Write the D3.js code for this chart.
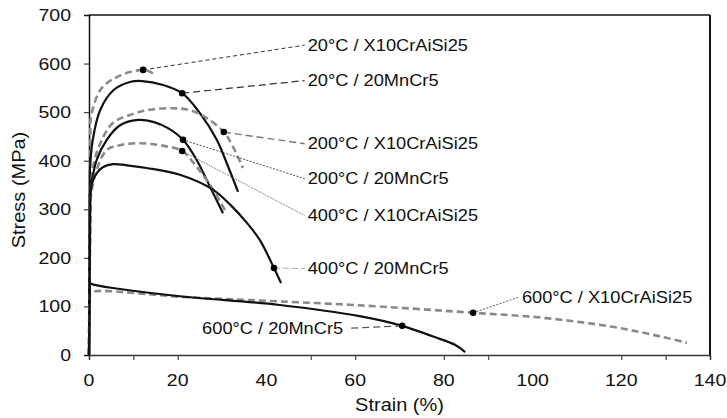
<!DOCTYPE html>
<html><head><meta charset="utf-8">
<script src="https://cdn.jsdelivr.net/npm/d3@7"></script>
<style>body{margin:0;background:#fff}svg{display:block}text{font-family:"Liberation Sans",Arial,sans-serif;fill:#111}</style>
</head><body><svg id="c" width="727" height="418"></svg>
<script>
// ---- data (strain %, stress MPa) ----
const xTicks = [0,20,40,60,80,100,120,140];
const xMinorTicks = [10,20,50,60,80,90,120,130];
const yTicks = [0,100,200,300,400,500,600,700];

const x10_20  = [[0,0],[0.3,480],[1,512],[2.5,545],[4.5,563],[6.3,572],[9,582],[12.2,587],[13.8,583],[14.9,576]];
const mn_20   = [[0,0],[0.2,380],[0.8,440],[2.5,504],[5.5,545],[9.2,562],[12,564],[16.7,556],[21,539],[25,498],[28.8,443],[31.4,387],[33.6,336]];
const x10_200 = [[0,0],[0.3,330],[1,390],[2.5,435],[5.4,478],[9.2,494],[13,504],[19,508],[22.8,504],[26.5,488],[30.4,459],[32.5,428],[34.7,385]];
const mn_200  = [[0,0],[0.2,330],[1.7,401],[4,443],[7,473],[11,484],[14.5,480],[17.8,467],[21.2,443],[24.3,401],[27.3,346],[30.2,292]];
const x10_400 = [[0,0],[0.3,320],[1.5,375],[4,422],[7,432],[11.5,436],[16,432],[21,420],[24.3,387],[28,340],[31,292]];
const mn_400  = [[0,0],[0.3,320],[0.7,354],[1.8,375],[3.2,387],[5.4,393],[9,390],[13,385],[20.5,371],[28,340],[32,308],[35.6,272],[38.5,237],[41.7,179],[43.3,148]];
const x10_600 = [[0,0],[0.2,125],[1,130],[2.5,132],[20.5,120],[36.7,113],[59.5,103],[86.6,87],[103,76],[118,58],[129.4,37],[134.8,25]];
const mn_600  = [[0,0],[0.2,148],[1,145],[5.4,138],[20.5,121],[43,103],[61,80],[70.6,60],[77.6,38],[82.5,21],[84.8,6]];

const labels = ["20°C / X10CrAiSi25","20°C / 20MnCr5","200°C / X10CrAiSi25","200°C / 20MnCr5",
                "400°C / X10CrAiSi25","400°C / 20MnCr5","600°C / X10CrAiSi25","600°C / 20MnCr5"];
const markStrain = [12.2,21,30.4,21.2,21,41.7,86.6,70.6];
const markStress = [587,539,459,443,420,179,87,60];

// ---- layout ----
const svg = d3.select("#c");
const L=89,R=710,T=15,B=355;
const x = d3.scaleLinear().domain([0,140]).range([L,R]);
const y = d3.scaleLinear().domain([0,700]).range([B,T]);

const series = [
  {d:x10_20, gray:true},{d:mn_20, gray:false},{d:x10_200, gray:true},{d:mn_200, gray:false},
  {d:x10_400, gray:true},{d:mn_400, gray:false},{d:x10_600, gray:true},{d:mn_600, gray:false}
];
// label anchor positions (data units) and leader styles
const labelPos = [[49.3,638],[49.3,565],[49.3,435],[49.3,363],[49.3,287],[49.3,178],[97.6,119],[25.5,55]];
const leaderStyle = [
  {c:"#333",w:1,da:"4,3"},{c:"#333",w:1.2,da:"7,4"},{c:"#777",w:1.4,da:"7,4"},{c:"#222",w:0.8,da:"2,1.5"},
  {c:"#666",w:0.8,da:"2,1"},{c:"#aaa",w:1,da:"6,3"},{c:"#333",w:0.8,da:"2,1.5"},{c:"#555",w:1.2,da:"7,4"}
];

// frame
svg.append("line").attr("x1",L).attr("x2",R).attr("y1",T).attr("y2",T).attr("stroke","#111").attr("stroke-width",1.5);
svg.append("line").attr("x1",R).attr("x2",R).attr("y1",T).attr("y2",B+0.75).attr("stroke","#111").attr("stroke-width",2);

// axes
const gx = svg.append("g").attr("transform",`translate(0,${B})`)
  .call(d3.axisBottom(x).tickValues(xMinorTicks).tickSize(5).tickFormat(""));
gx.select(".domain").attr("stroke","#333").attr("stroke-width",1.5);
gx.selectAll(".tick line").attr("stroke","#444").attr("stroke-width",1.2);
const gy = svg.append("g").attr("transform",`translate(${L},0)`)
  .call(d3.axisLeft(y).tickValues(yTicks.slice(1,7)).tickSize(5).tickFormat(""));
gy.select(".domain").attr("stroke","#111").attr("stroke-width",1.5);
gy.selectAll(".tick line").attr("stroke","#444").attr("stroke-width",1.2);

// tick labels (slightly wide glyphs)
xTicks.forEach(v=>{
  svg.append("g").attr("transform",`translate(${x(v)},386)`)
    .append("text").attr("text-anchor","middle").attr("font-size",16).attr("transform","scale(1.22,1)").text(v);
});
yTicks.forEach(v=>{
  svg.append("g").attr("transform",`translate(71,${y(v)+6})`)
    .append("text").attr("text-anchor","end").attr("font-size",16).attr("transform","scale(1.22,1)").text(v);
});
svg.append("g").attr("transform",`translate(${(L+R)/2},411)`)
  .append("text").attr("text-anchor","middle").attr("font-size",18.5).attr("transform","scale(1.08,1)").text("Strain (%)");
svg.append("g").attr("transform",`translate(25,${(T+B)/2+5}) rotate(-90)`)
  .append("text").attr("text-anchor","middle").attr("font-size",18.5).attr("transform","scale(1.08,1)").text("Stress (MPa)");

// curves: straight elastic segment from origin, then smooth plastic part
const line = d3.line().x(d=>x(d[0])).y(d=>y(d[1])).curve(d3.curveCatmullRom.alpha(0.5));
series.forEach(s=>{
  const p0 = s.d[0];
  const rest = line(s.d.slice(1)).replace(/^M/,"L");
  svg.append("path").attr("d",`M${x(p0[0])},${y(p0[1])}${rest}`).attr("fill","none")
    .attr("stroke", s.gray ? "#8a8a8a" : "#111")
    .attr("stroke-width", s.gray ? 2.6 : 2.2)
    .attr("stroke-dasharray", s.gray ? "7,4" : null)
    .attr("stroke-linecap","butt");
});

// leaders, markers, labels
labels.forEach((t,i)=>{
  const mx=x(markStrain[i]), my=y(markStress[i]);
  const lx=x(labelPos[i][0]), ly=y(labelPos[i][1]);
  const st=leaderStyle[i];
  let ex = i===7 ? lx+145 : lx-3;
  svg.append("line").attr("x1",mx).attr("y1",my).attr("x2",ex).attr("y2",ly)
    .attr("stroke",st.c).attr("stroke-width",st.w).attr("stroke-dasharray",st.da);
  svg.append("circle").attr("cx",mx).attr("cy",my).attr("r",3.3).attr("fill","#000");
  svg.append("g").attr("transform",`translate(${lx},${ly+5.5})`)
    .append("text").attr("font-size",16).attr("transform","scale(1.14,1)").text(t);
});
</script></body></html>
